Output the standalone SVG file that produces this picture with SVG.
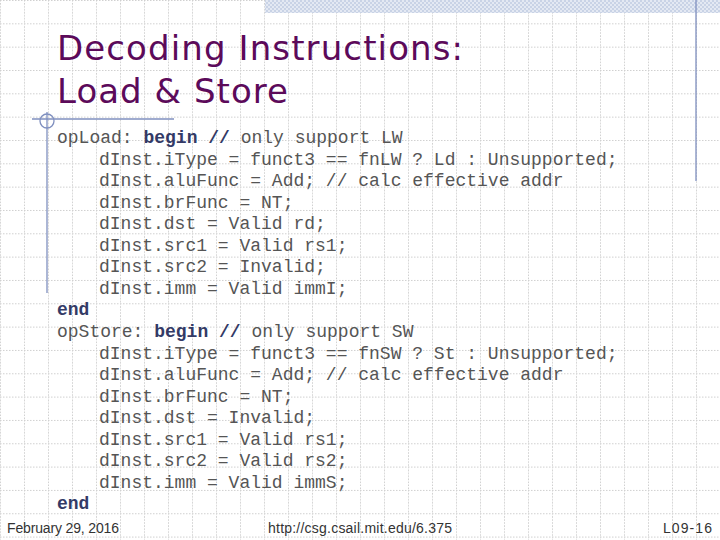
<svg xmlns="http://www.w3.org/2000/svg" width="720" height="540" viewBox="0 0 720 540">
<defs>
<pattern id="grid" width="24" height="23.33" patternUnits="userSpaceOnUse" x="0" y="0.0">
<path d="M0 0.5H24 M0.5 0V23.33" fill="none" stroke="#cfcfcf" stroke-width="1" stroke-dasharray="1.5 1.5"/>
</pattern>
<pattern id="hatch" width="4" height="4" patternUnits="userSpaceOnUse">
<rect width="4" height="4" fill="#e4e9f3"/>
<rect width="2" height="2" fill="#c9d3e6"/>
<rect x="2" y="2" width="2" height="2" fill="#c9d3e6"/>
</pattern>
<style>
.code{font-family:"Liberation Mono",monospace;font-size:18px;fill:#555555;white-space:pre}
.kw{font-weight:bold;fill:#333a66}
.title{font-family:"DejaVu Sans",Verdana,sans-serif;font-size:34px;fill:#5c0a5a}
.foot{font-family:"Liberation Sans",Arial,sans-serif;font-size:14px;fill:#333333}
.deco{stroke:#7f8fbf;stroke-width:1.3;fill:none}
</style>
</defs>
<rect width="720" height="540" fill="#ffffff"/>
<rect width="720" height="540" fill="url(#grid)"/>
<rect x="265" y="0" width="455" height="13" fill="url(#hatch)"/>
<g id="decor">
<line class="deco" x1="696" y1="0" x2="696" y2="181"/>
<line class="deco" x1="32" y1="119" x2="174" y2="119"/>
<line class="deco" x1="47" y1="112" x2="47" y2="293"/>
<circle class="deco" cx="47" cy="121" r="7"/>
</g>
<g id="title">
<text class="title" x="57" y="60" textLength="406">Decoding Instructions:</text>
<text class="title" x="57" y="103" textLength="231">Load &amp; Store</text>
</g>
<g id="code" class="code">
<text x="57" y="143"><tspan>opLoad: </tspan><tspan class="kw">begin //</tspan><tspan> only support LW</tspan></text>
<text x="99" y="165">dInst.iType = funct3 == fnLW ? Ld : Unsupported;</text>
<text x="99" y="186">dInst.aluFunc = Add; // calc effective addr</text>
<text x="99" y="208">dInst.brFunc = NT;</text>
<text x="99" y="229">dInst.dst = Valid rd;</text>
<text x="99" y="251">dInst.src1 = Valid rs1;</text>
<text x="99" y="272">dInst.src2 = Invalid;</text>
<text x="99" y="294">dInst.imm = Valid immI;</text>
<text x="57" y="315" class="kw">end</text>
<text x="57" y="337"><tspan>opStore: </tspan><tspan class="kw">begin //</tspan><tspan> only support SW</tspan></text>
<text x="99" y="359">dInst.iType = funct3 == fnSW ? St : Unsupported;</text>
<text x="99" y="380">dInst.aluFunc = Add; // calc effective addr</text>
<text x="99" y="402">dInst.brFunc = NT;</text>
<text x="99" y="423">dInst.dst = Invalid;</text>
<text x="99" y="445">dInst.src1 = Valid rs1;</text>
<text x="99" y="466">dInst.src2 = Valid rs2;</text>
<text x="99" y="488">dInst.imm = Valid immS;</text>
<text x="57" y="509" class="kw">end</text>
</g>
<g id="footer" class="foot">
<text x="7" y="533" textLength="112">February 29, 2016</text>
<text x="268" y="533" textLength="184">http://csg.csail.mit.edu/6.375</text>
<text x="663" y="533" textLength="49">L09-16</text>
</g>
</svg>
